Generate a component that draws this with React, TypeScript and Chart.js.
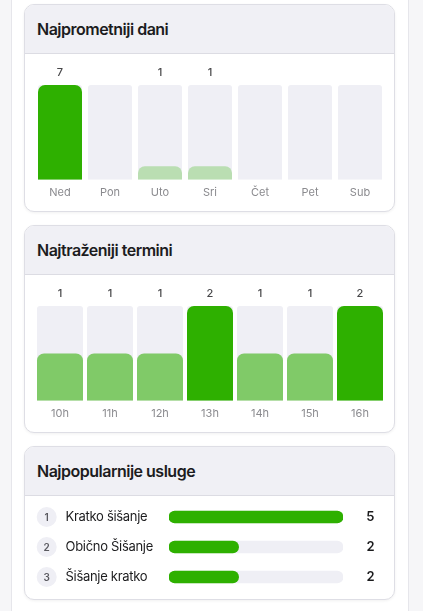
import React, { useEffect, useRef } from "react";
import { Chart, registerables } from "chart.js";

Chart.register(...registerables);

const dayLabels = ["Ned", "Pon", "Uto", "Sri", "Čet", "Pet", "Sub"];
const dayCounts = [7, 0, 1, 1, 0, 0, 0];
const hourLabels = ["10h", "11h", "12h", "13h", "14h", "15h", "16h"];
const hourCounts = [1, 1, 1, 2, 1, 1, 2];
const serviceNames = ["Kratko šišanje", "Obično Šišanje", "Šišanje kratko"];
const serviceCounts = [5, 2, 2];

const FONT = "Inter, 'Noto Sans', sans-serif";
const TRACK = "#efeff5";

function shade(v: number, max: number) {
  const r = max > 0 ? v / max : 0;
  if (r >= 1) return "rgb(46,176,0)";
  return `rgba(46,176,0,${(0.15 + 0.85 * r).toFixed(3)})`;
}

function ColumnChart({ labels, values, barPct, radius }: { labels: string[]; values: number[]; barPct: number; radius: number }) {
  const ref = useRef<HTMLCanvasElement>(null);
  useEffect(() => {
    const max = Math.max(...values);
    const valueLabels = {
      id: "valueLabels",
      afterDatasetsDraw(chart: any) {
        const ctx = chart.ctx;
        const meta = chart.getDatasetMeta(0);
        ctx.save();
        ctx.font = `500 11px ${FONT}`;
        ctx.fillStyle = "#48484a";
        ctx.textAlign = "center";
        ctx.textBaseline = "middle";
        meta.data.forEach((el: any, i: number) => {
          if (values[i] > 0) ctx.fillText(String(values[i]), el.x, chart.chartArea.top - 12);
        });
        ctx.restore();
      },
    };
    const chart = new Chart(ref.current!, {
      type: "bar",
      data: {
        labels,
        datasets: [
          {
            data: values,
            backgroundColor: values.map((v) => shade(v, max)),
            borderRadius: radius,
            borderSkipped: "start",
            grouped: false,
            order: 0,
            categoryPercentage: 1,
            barPercentage: barPct,
          } as any,
          {
            data: values.map(() => max),
            backgroundColor: TRACK,
            borderRadius: 3,
            borderSkipped: "start",
            grouped: false,
            order: 1,
            categoryPercentage: 1,
            barPercentage: barPct,
          } as any,
        ],
      },
      options: {
        animation: false,
        responsive: false,
        maintainAspectRatio: false,
        layout: { padding: { top: 23, left: 0, right: 0, bottom: 0 } },
        plugins: { legend: { display: false }, tooltip: { enabled: false } },
        scales: {
          x: {
            grid: { display: false, drawTicks: false },
            border: { display: false },
            ticks: { padding: 6, color: "#8a8a8e", font: { family: FONT, size: 11 } },
          },
          y: { display: false, min: 0, max },
        },
      },
      plugins: [valueLabels],
    });
    return () => chart.destroy();
  }, []);
  return (
    <canvas
      ref={ref}
      width={350}
      height={143}
      style={{ position: "absolute", left: 10, top: 57, width: 350, height: 143 }}
    />
  );
}

function ServiceChart() {
  const ref = useRef<HTMLCanvasElement>(null);
  useEffect(() => {
    const max = Math.max(...serviceCounts);
    const rowDecor = {
      id: "rowDecor",
      afterDatasetsDraw(chart: any) {
        const ctx = chart.ctx;
        const ys = chart.scales.y;
        ctx.save();
        serviceNames.forEach((name, i) => {
          const y = ys.getPixelForValue(i);
          ctx.beginPath();
          ctx.arc(21.7, y, 10, 0, Math.PI * 2);
          ctx.fillStyle = TRACK;
          ctx.fill();
          ctx.letterSpacing = "0px";
          ctx.font = `600 10px ${FONT}`;
          ctx.fillStyle = "#5a5a60";
          ctx.textAlign = "center";
          ctx.textBaseline = "middle";
          ctx.fillText(String(i + 1), 21.7, y + 0.5);
          ctx.font = `400 13px ${FONT}`;
          ctx.letterSpacing = "-0.3px";
          ctx.fillStyle = "#1c1c1e";
          ctx.textAlign = "left";
          ctx.fillText(name, 40.5, y + 0.5);
          ctx.letterSpacing = "0px";
          ctx.font = `600 13px ${FONT}`;
          ctx.textAlign = "right";
          ctx.fillText(String(serviceCounts[i]), 349.5, y + 0.5);
        });
        ctx.restore();
      },
    };
    const chart = new Chart(ref.current!, {
      type: "bar",
      data: {
        labels: serviceNames,
        datasets: [
          {
            data: serviceCounts,
            backgroundColor: "rgb(46,176,0)",
            borderRadius: 6,
            borderSkipped: false,
            grouped: false,
            order: 0,
            barThickness: 12,
          } as any,
          {
            data: serviceCounts.map(() => max),
            backgroundColor: TRACK,
            borderRadius: 6,
            borderSkipped: false,
            grouped: false,
            order: 1,
            barThickness: 12,
          } as any,
        ],
      },
      options: {
        indexAxis: "y",
        animation: false,
        responsive: false,
        maintainAspectRatio: false,
        layout: { padding: { top: 0, left: 144, right: 51, bottom: 0 } },
        plugins: { legend: { display: false }, tooltip: { enabled: false } },
        scales: {
          x: { display: false, min: 0, max },
          y: { display: false },
        },
      },
      plugins: [rowDecor],
    });
    return () => chart.destroy();
  }, []);
  return (
    <canvas
      ref={ref}
      width={369}
      height={90}
      style={{ position: "absolute", left: 0, top: 55, width: 369, height: 90 }}
    />
  );
}

function Card({ top, height, title, children }: { top: number; height: number; title: string; children: React.ReactNode }) {
  return (
    <div
      style={{
        position: "absolute",
        left: 24,
        top,
        width: 371,
        height,
        boxSizing: "border-box",
        border: "1px solid #dedee5",
        borderRadius: 10,
        background: "#fff",
        boxShadow: "0 1px 3px rgba(0,0,0,0.06)",
        overflow: "hidden",
      }}
    >
      <div
        style={{
          height: 48,
          borderBottom: "1px solid #dcdce3",
          background: "#f0f0f5",
          display: "flex",
          alignItems: "center",
          paddingLeft: 12,
          fontFamily: FONT,
          fontWeight: 600,
          fontSize: 16,
          letterSpacing: "-0.5px",
          color: "#1c1c1e",
        }}
      >
        {title}
      </div>
      {children}
    </div>
  );
}

export default function App() {
  return (
    <div style={{ position: "fixed", inset: 0, background: "#f6f6f8", overflow: "hidden" }}>
      <div
        style={{
          position: "absolute",
          left: 11,
          top: 0,
          width: 398,
          height: "100%",
          boxSizing: "border-box",
          background: "#fff",
          borderLeft: "1px solid #e6e6eb",
          borderRight: "1px solid #e6e6eb",
        }}
      />
      <Card top={4} height={208} title="Najprometniji dani">
        <ColumnChart labels={dayLabels} values={dayCounts} barPct={0.88} radius={7} />
      </Card>
      <Card top={225} height={208} title="Najtraženiji termini">
        <ColumnChart labels={hourLabels} values={hourCounts} barPct={0.92} radius={7} />
      </Card>
      <Card top={446} height={154} title="Najpopularnije usluge">
        <ServiceChart />
      </Card>
    </div>
  );
}
